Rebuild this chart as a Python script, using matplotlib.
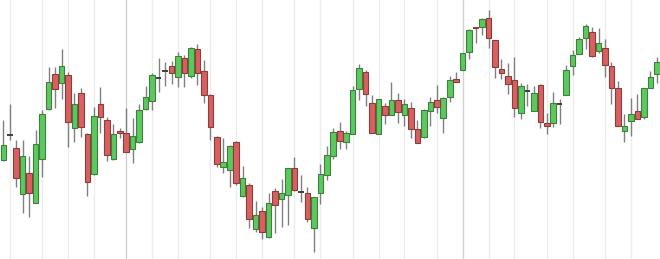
import matplotlib
matplotlib.use("Agg")
import matplotlib.pyplot as plt
import numpy as np

# OHLC values (arbitrary price units)
opens = [99, 124, 111, 65, 86, 56, 100, 150, 185, 176, 184, 131, 166, 125, 85, 155, 139, 100, 128, 126,
         110, 117, 150, 158, 181, 188, 193, 182, 201, 183, 210, 188, 164, 122, 92, 89, 117, 63, 74, 30,
         48, 22, 68, 60, 64, 91, 67, 66, 31, 66, 84, 103, 128, 117, 125, 170, 187, 156, 125, 153,
         144, 159, 144, 151, 130, 122, 148, 159, 141, 162, 180, 189, 207, 232, 232, 241, 219, 190, 183, 179,
         146, 168, 148, 174, 136, 136, 155, 164, 193, 205, 221, 227, 208, 211, 193, 171, 128, 138, 148, 142,
         171, 185]
highs = [139, 155, 119, 119, 103, 129, 149, 192, 192, 210, 187, 166, 171, 126, 152, 172, 142, 135, 131, 151,
         141, 155, 173, 186, 201, 197, 198, 207, 204, 212, 215, 199, 165, 123, 121, 114, 118, 93, 76, 58,
         52, 66, 71, 80, 91, 102, 84, 72, 62, 95, 113, 131, 137, 128, 173, 195, 189, 164, 160, 156,
         177, 166, 160, 157, 139, 150, 162, 174, 162, 183, 187, 206, 230, 232, 241, 249, 219, 200, 196, 202,
         176, 175, 173, 175, 146, 167, 160, 194, 209, 222, 235, 232, 231, 220, 197, 178, 145, 161, 165, 171,
         188, 202]
lows = [98, 119, 72, 46, 42, 56, 82, 149, 151, 160, 112, 117, 122, 63, 84, 126, 98, 99, 121, 107,
        96, 116, 149, 149, 167, 173, 175, 172, 172, 181, 174, 156, 119, 92, 86, 72, 74, 62, 31, 27,
        20, 21, 26, 32, 34, 68, 57, 37, 7, 55, 79, 100, 110, 110, 125, 159, 153, 126, 125, 135,
        144, 136, 133, 121, 116, 121, 133, 146, 126, 157, 177, 189, 200, 216, 224, 211, 181, 180, 165, 142,
        140, 153, 148, 131, 125, 132, 135, 164, 184, 205, 210, 202, 206, 182, 155, 133, 117, 123, 140, 140,
        171, 176]
closes = [114, 124, 81, 103, 66, 115, 145, 177, 170, 193, 137, 155, 132, 77, 143, 142, 104, 125, 126, 107,
          123, 149, 162, 184, 181, 188, 186, 203, 186, 211, 186, 164, 132, 95, 97, 113, 76, 81, 40, 44,
          27, 56, 54, 66, 91, 69, 67, 40, 62, 85, 104, 127, 118, 126, 169, 191, 165, 126, 160, 144,
          159, 147, 155, 130, 116, 149, 157, 152, 161, 179, 177, 206, 229, 231, 240, 221, 192, 186, 175, 151,
          173, 168, 166, 137, 133, 156, 155, 189, 204, 220, 233, 203, 216, 194, 171, 133, 133, 145, 140, 171,
          182, 197]

# candles where a vertical separator is drawn (0-based), darker ones mark a new month
grid_idx = [1, 6, 10, 14, 19, 23, 27, 32, 36, 40, 45, 49, 54, 58, 62, 67, 71, 75, 79, 84, 88, 93, 97]
major_idx = [19, 71]

o = np.array(opens, dtype=float)
h = np.array(highs, dtype=float)
l = np.array(lows, dtype=float)
c = np.array(closes, dtype=float)
x = np.arange(len(o))

fig = plt.figure(figsize=(6.6, 2.59), dpi=100)
ax = fig.add_axes([0, 0, 1, 1])

for i in grid_idx:
    col = "#d2d2d2" if i in major_idx else "#ececec"
    ax.axvline(i, color=col, lw=1.0, zorder=0)

up = c > o
down = c < o
flat = c == o

ax.vlines(x, l, h, color="#808080", lw=1.0, zorder=1)

w = 0.86
ax.bar(x[up], (c - o)[up], bottom=o[up], width=w, color="#5cc95c",
       edgecolor="#3f7f3f", linewidth=0.8, zorder=2)
ax.bar(x[down], (o - c)[down], bottom=c[down], width=w, color="#d86060",
       edgecolor="#8c3c3c", linewidth=0.8, zorder=2)
ax.hlines(o[flat], x[flat] - w / 2, x[flat] + w / 2, color="#333333", lw=1.3, zorder=2)

ax.set_xlim(-0.51, 101.5)
ax.set_ylim(0, 259)
ax.axis("off")

fig.savefig("out.png", dpi=100, facecolor="white")
